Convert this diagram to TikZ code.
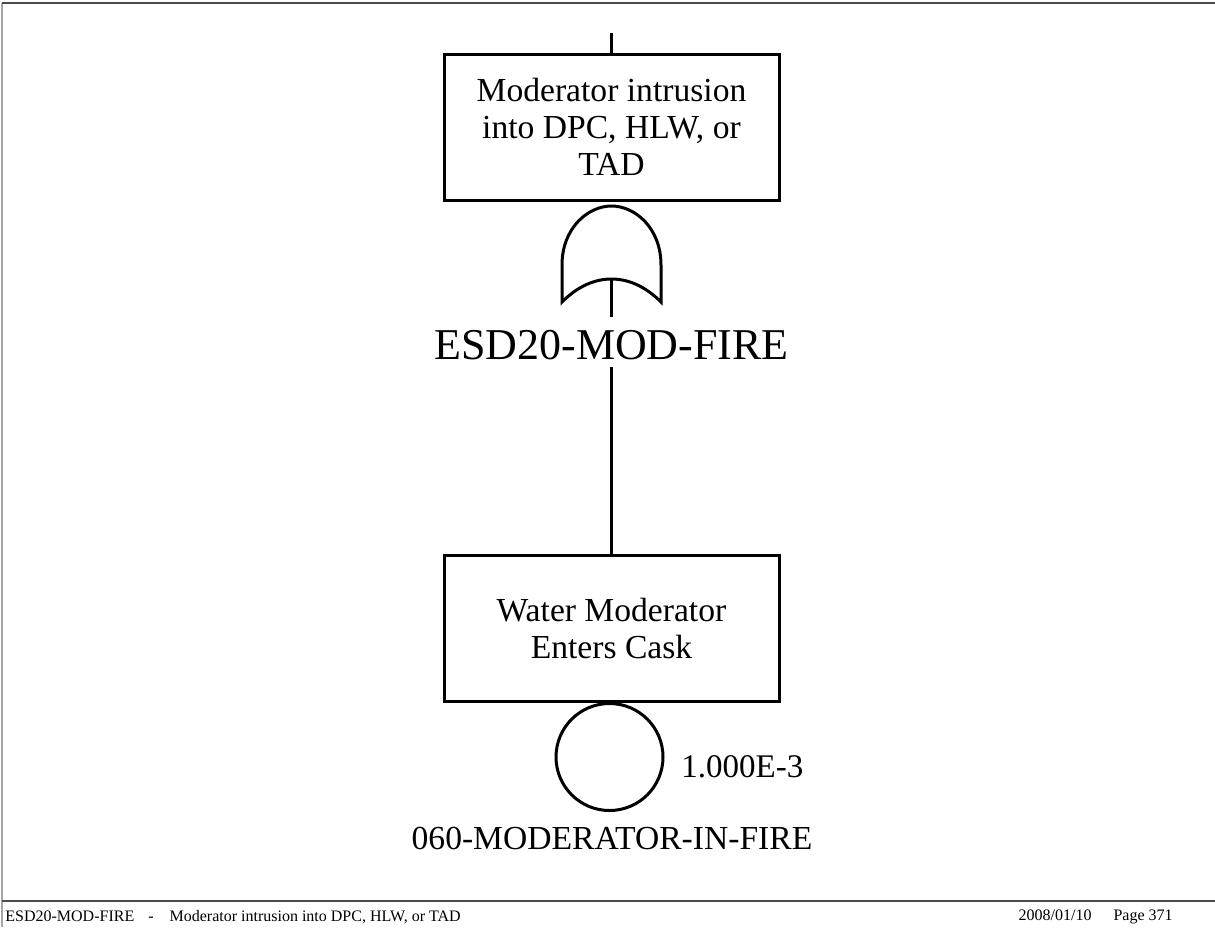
\documentclass[tikz,border=0pt]{standalone}
\usepackage{fontspec}
\setmainfont{Liberation Serif}
\begin{document}
\begin{tikzpicture}[x=0.5pt,y=-0.5pt,
        evento/.style={draw,line width=1.5pt,minimum width=167.5pt,minimum height=73pt,
            inner sep=0pt,align=center,font=\fontsize{16.8}{18.5}\selectfont},
        liga/.style={line width=1.5pt}]
        \useasboundingbox (0,0) rectangle (1215,927);

        % Moldura e rodapé
        \draw[black!35,line width=1pt] (2,927) -- (2,3);
        \draw[black!70,line width=0.6pt] (2,3) -- (1215,3);
        \draw[black!70,line width=0.6pt] (2,901) -- (1215,901);
        \node[anchor=west,inner sep=0pt,font=\fontsize{8}{9.6}\selectfont] (R1) at (5,917)
            {ESD20-MOD-FIRE\hspace{7pt}-\hspace{8pt}Moderator intrusion into DPC, HLW, or TAD};
        \node[anchor=east,inner sep=0pt,font=\fontsize{8}{9.6}\selectfont] (R2) at (1173,917)
            {2008/01/10\hspace{11pt}Page 371};

        % Evento de topo
        \coordinate (T) at (611.5,33);
        \node[evento] (E1) at (611.5,127) {Moderator intrusion\\into DPC, HLW, or\\TAD};
        \draw[liga] (T) -- (E1.north);

        % Porta OU
        \coordinate (G1) at (611.5,279);
        \coordinate (G2) at (611.5,317);
        \draw[liga] (562,302) -- (562,265)
            .. controls (562,228) and (588,206) .. (611.5,206)
            .. controls (635,206) and (661,228) .. (661,265) -- (661,302)
            .. controls (645,286) and (628,279) .. (G1)
            .. controls (595,279) and (578,286) .. (562,302) -- cycle;
        \draw[liga] (G1) -- (G2);
        \node[font=\fontsize{22}{26}\selectfont] (L1) at (611.5,345) {ESD20-MOD-FIRE};

        % Evento intermediário
        \node[evento] (E2) at (611.5,628.5) {Water Moderator\\Enters Cask};
        \draw[liga] (L1.south) -- (E2.north);

        % Evento básico
        \node[draw,circle,line width=1.5pt,minimum size=53.5pt,inner sep=0pt] (B1) at (609.5,757) {};
        \node[anchor=west,inner sep=0pt,font=\fontsize{16.5}{19}\selectfont] (P1) at (681,767) {1.000E-3};
        \node[font=\fontsize{16.8}{19}\selectfont] (N1) at (612,838) {060-MODERATOR-IN-FIRE};
    \end{tikzpicture}
\end{document}
